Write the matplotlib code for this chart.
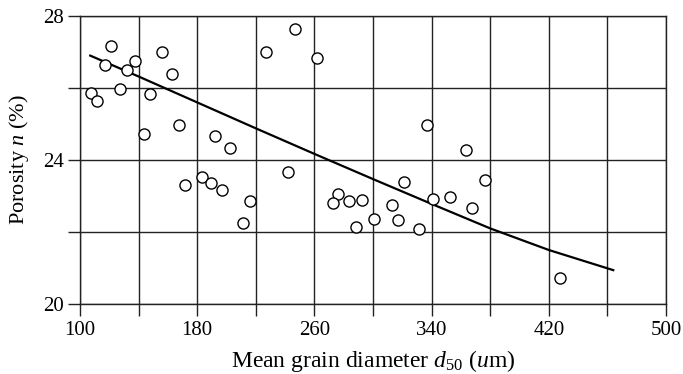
import numpy as np
import matplotlib
matplotlib.use("Agg")
from matplotlib import pyplot as plt

plt.rcParams['font.family'] = ['Liberation Serif', 'DejaVu Serif']
plt.rcParams['mathtext.fontset'] = 'custom'
plt.rcParams['mathtext.rm'] = 'Liberation Serif'
plt.rcParams['mathtext.it'] = 'Liberation Serif:italic'

# measured points
d50 = [121.5, 156, 226.9, 117.4, 137.3, 132, 162.6, 107.2, 111.8, 127.1,
       147.5, 167.3, 143.4, 191.9, 202.2, 246.8, 261.6, 336.6,
       183.5, 171.6, 189.4, 197.0, 216.3, 211.5,
       241.8, 276.1, 272.8, 283.4, 292.5, 288.2, 300.9, 321.4, 313.0,
       317.1, 331.4, 340.7, 352.3, 363.3, 376.7, 367.3, 427.8]
porosity = [27.17, 27.0, 27.0, 26.63, 26.76, 26.5, 26.4, 25.87, 25.64, 25.96,
            25.83, 24.97, 24.72, 24.67, 24.34, 27.64, 26.84, 24.96,
            23.52, 23.3, 23.35, 23.17, 22.87, 22.26,
            23.68, 23.06, 22.81, 22.86, 22.89, 22.14, 22.36, 23.4, 22.76,
            22.33, 22.07, 22.93, 22.97, 24.28, 23.44, 22.66, 20.71]

# fitted trend line
fit_x = [107, 140, 180, 220, 260, 300, 340, 380, 420, 464]
fit_y = [26.9, 26.32, 25.6, 24.88, 24.17, 23.47, 22.78, 22.1, 21.5, 20.94]

fig = plt.figure(figsize=(6.83, 3.74), dpi=100)
ax = fig.add_axes([0.1171, 0.1872, 0.858, 0.770])

ax.plot(d50, porosity, 'o', mfc='white', mec='black', ms=8, mew=1.0, zorder=3)
ax.plot(fit_x, fit_y, '-', color='black', lw=1.6, zorder=2)

ax.set_xlim(100, 500)
ax.set_ylim(20, 28)
ax.set_xticks(np.arange(100, 501, 40))
ax.set_xticklabels(['100', '', '180', '', '260', '', '340', '', '420', '', '500'])
ax.set_yticks([20, 22, 24, 26, 28])
ax.set_yticklabels(['20', '', '24', '', '28'])
ax.grid(True, color='#222222', lw=1.0)
ax.set_axisbelow(True)
for s in ax.spines.values():
    s.set_color('#222222')
    s.set_linewidth(1.0)
ax.tick_params(direction='out', length=8.5, width=1.0, color='#222222', labelsize=15)
ax.tick_params(axis='x', pad=4)
ax.tick_params(axis='y', pad=3)

ax.set_xlabel(r'Mean grain diameter $d_{50}$ ($u$m)', fontsize=17)
ax.set_ylabel(r'Porosity $n$ (%)', fontsize=16)
ax.xaxis.set_label_coords(0.5, -0.152)
ax.yaxis.set_label_coords(-0.083, 0.5)

fig.savefig('out.png', dpi=100)
